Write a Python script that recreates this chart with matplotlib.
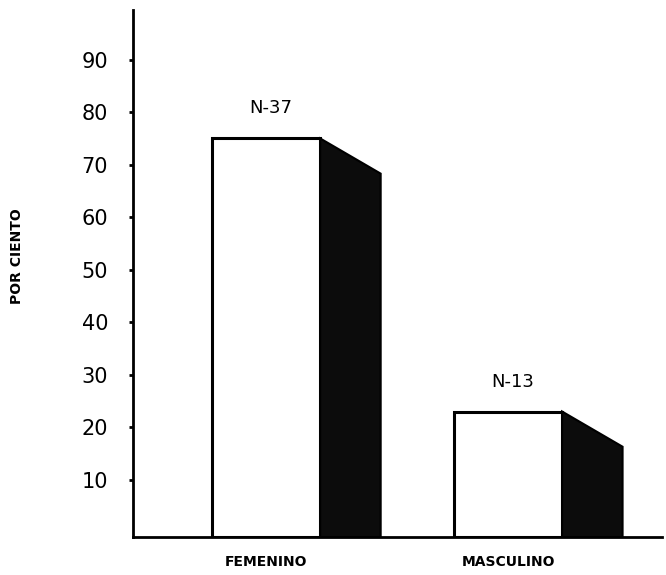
import matplotlib.pyplot as plt
from matplotlib.patches import Polygon

# data
categories = ["FEMENINO", "MASCULINO"]
values = [75, 23]
n_labels = ["N-37", "N-13"]
yticks = [10, 20, 30, 40, 50, 60, 70, 80, 90]

plt.rcParams["font.family"] = ["DejaVu Sans"]

fig = plt.figure(figsize=(6.66, 5.75), dpi=100)
ax = fig.add_axes([0.2, 0.066, 0.794, 0.917])

base = -0.9
width = 0.446
depth = 0.25
drop = 6.7

for i, (v, n) in enumerate(zip(values, n_labels)):
    x1 = i + width / 2
    # front face
    ax.bar(i, v - base, bottom=base, width=width, color="white",
           edgecolor="black", linewidth=2.2, zorder=2)
    # shaded side face
    side = Polygon([(x1, base), (x1, v), (x1 + depth, v - drop), (x1 + depth, base)],
                   closed=True, facecolor="#0c0c0c", edgecolor="black",
                   linewidth=1.5, zorder=2)
    ax.add_patch(side)
    ax.text(i + 0.02, v + 4.0, n, ha="center", va="bottom", fontsize=13)

ax.set_xlim(-0.55, 1.636)
ax.set_ylim(base, 99.5)
ax.set_xticks([0, 1])
ax.set_xticklabels(categories, fontsize=10, fontweight="bold")
ax.tick_params(axis="x", length=0, pad=13)
ax.set_yticks(yticks)
ax.set_yticklabels([str(t) for t in yticks], fontsize=15)
ax.tick_params(axis="y", length=3, width=2, pad=15)

ax.spines["top"].set_visible(False)
ax.spines["right"].set_visible(False)
ax.spines["left"].set_linewidth(2)
ax.spines["bottom"].set_linewidth(2)

fig.text(0.026, 0.555, "POR CIENTO", rotation=90, ha="center", va="center",
         fontsize=10, fontweight="bold")

fig.savefig("out.png", dpi=100)
